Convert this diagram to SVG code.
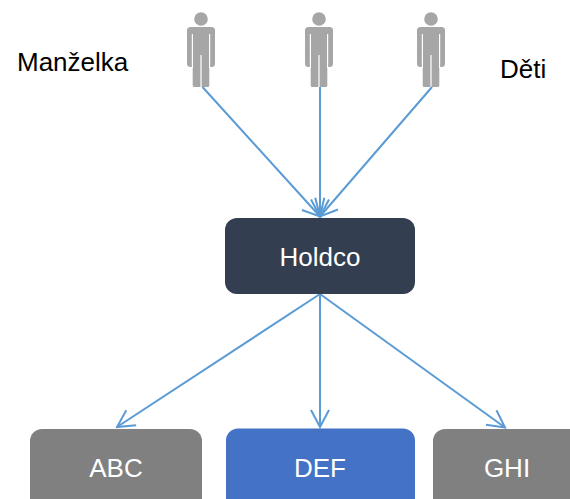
<svg xmlns="http://www.w3.org/2000/svg" width="570" height="499" viewBox="0 0 570 499">
<style>
.lbl{font-family:"Liberation Sans",Arial,sans-serif;font-size:26px;fill:#000}
.nt{font-family:"Liberation Sans",Arial,sans-serif;font-size:26px;fill:#fff;text-anchor:middle}
.conn{stroke:#5B9BD5;stroke-width:2;fill:none;marker-end:url(#arr)}
.gap{stroke:#fff;stroke-width:1.2}
.pf{fill:#A6A6A6}
</style>
<defs>
<marker id="arr" markerUnits="userSpaceOnUse" viewBox="-20 -12 22 24" refX="0" refY="0" markerWidth="22" markerHeight="24" orient="auto">
<path d="M-17,-9 L0,0 L-17,9" fill="none" stroke="#5B9BD5" stroke-width="2" stroke-linejoin="miter"/>
</marker>
<g id="person">
<circle class="pf" cx="0" cy="19" r="6.8"/>
<rect class="pf" x="-14" y="27" width="28" height="40" rx="3.5"/>
<rect class="pf" x="-8.3" y="50" width="16.6" height="37" rx="1.5"/>
<line class="gap" x1="-8.6" y1="34" x2="-8.6" y2="68"/>
<line class="gap" x1="8.6" y1="34" x2="8.6" y2="68"/>
<line class="gap" x1="0" y1="55" x2="0" y2="88"/>
</g>
</defs>
<rect width="570" height="499" fill="#fff"/>
<g id="people">
<use href="#person" x="201" y="0"/>
<use href="#person" x="319" y="0"/>
<use href="#person" x="431" y="0"/>
</g>
<text class="lbl" x="17" y="71">Manželka</text>
<text class="lbl" x="500" y="78">Děti</text>
<g id="connectors">
<line class="conn" x1="202.5" y1="87" x2="320" y2="216.5"/>
<line class="conn" x1="320" y1="87" x2="320" y2="216.5"/>
<line class="conn" x1="432" y1="87" x2="320" y2="216.5"/>
<line class="conn" x1="320" y1="294" x2="117" y2="427"/>
<line class="conn" x1="320" y1="294" x2="320" y2="427"/>
<line class="conn" x1="320" y1="294" x2="505" y2="427.5"/>
</g>
<g id="holdco">
<rect x="225" y="218" width="190" height="76" rx="12" fill="#333F50"/>
<text class="nt" x="320" y="266">Holdco</text>
</g>
<g id="abc">
<rect x="30" y="429" width="172" height="85" rx="12" fill="#808080"/>
<text class="nt" x="116" y="477">ABC</text>
</g>
<g id="def">
<rect x="226" y="428.5" width="189" height="85" rx="12" fill="#4472C4"/>
<text class="nt" x="320" y="477">DEF</text>
</g>
<g id="ghi">
<rect x="433" y="429" width="172" height="85" rx="12" fill="#808080"/>
<text class="nt" x="507" y="477">GHI</text>
</g>
</svg>
